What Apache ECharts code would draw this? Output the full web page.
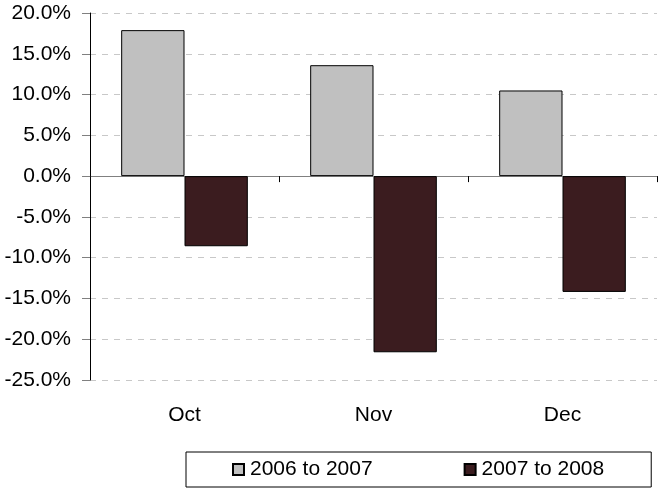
<!DOCTYPE html>
<html><head><meta charset="utf-8">
<script src="https://cdn.jsdelivr.net/npm/echarts@6/dist/echarts.min.js"></script>
<style>html,body{margin:0;padding:0;background:#fff}#c{width:658px;height:489px}</style>
</head><body><div id="c"></div>
<script>
var categories = ['Oct', 'Nov', 'Dec'];
var series1Name = '2006 to 2007';
var series2Name = '2007 to 2008';
var series1 = [17.9, 13.6, 10.5];
var series2 = [-8.6, -21.6, -14.2];
var yMin = -25, yMax = 20, yStep = 5;

var chart = echarts.init(document.getElementById('c'), null, {renderer: 'canvas'});
var font = '"Liberation Sans", Arial, sans-serif';
chart.setOption({
  animation: false,
  textStyle: {fontFamily: font},
  grid: {left: 90, right: 1, top: 13, bottom: 109, containLabel: false},
  legend: {
    data: [series1Name, series2Name],
    left: 186, top: 452,
    orient: 'horizontal',
    icon: 'rect', itemWidth: 11, itemHeight: 11, itemGap: 91,
    padding: [7, 47, 7, 46],
    borderColor: '#000', borderWidth: 1,
    textStyle: {fontFamily: font, fontSize: 21, color: '#000', padding: [0, 0, 0, 1]}
  },
  xAxis: [{
    type: 'category', data: categories,
    axisLine: {onZero: true, lineStyle: {color: '#808080', width: 1}},
    axisTick: {show: true, length: 6, lineStyle: {color: '#000'}},
    axisLabel: {show: false},
    splitLine: {show: false}
  }, {
    type: 'category', data: categories, position: 'bottom',
    axisLine: {show: false}, axisTick: {show: false},
    axisLabel: {color: '#000', fontSize: 21, fontFamily: font, margin: 25}
  }],
  yAxis: {
    type: 'value', min: yMin, max: yMax, interval: yStep,
    axisLine: {show: true, lineStyle: {color: '#000'}},
    axisTick: {show: true, length: 8, lineStyle: {color: '#808080'}},
    axisLabel: {color: '#000', fontSize: 21, fontFamily: font, margin: 19,
      formatter: function (v) { return v.toFixed(1) + '%'; }},
    splitLine: {show: true, lineStyle: {color: '#c8c8c8', type: [6, 6], width: 1}}
  },
  series: [{
    name: series1Name, type: 'bar', data: series1, xAxisIndex: 0,
    barGap: '0%', barCategoryGap: '33%',
    itemStyle: {color: '#c0c0c0', borderColor: '#000', borderWidth: 1}
  }, {
    name: series2Name, type: 'bar', data: series2, xAxisIndex: 0,
    itemStyle: {color: '#3b1c1f', borderColor: '#000', borderWidth: 1}
  }]
});
</script></body></html>
